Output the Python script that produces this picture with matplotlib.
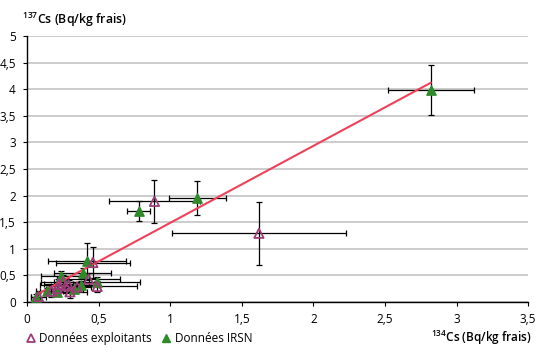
import matplotlib.pyplot as plt
from matplotlib.lines import Line2D

# Données exploitants (open triangles)
expl_x = [0.89, 1.62, 0.46, 0.43, 0.49, 0.29, 0.25, 0.30, 0.21, 0.08, 0.17, 0.27, 0.35, 0.22]
expl_y = [1.89, 1.29, 0.74, 0.43, 0.29, 0.32, 0.38, 0.19, 0.25, 0.10, 0.20, 0.30, 0.28, 0.33]
expl_xerr = [0.32, 0.61, 0.26, 0.22, 0.28, 0.20, 0.15, 0.12, 0.08, 0.05, 0.08, 0.10, 0.10, 0.10]
expl_yerr = [0.40, 0.59, 0.30, 0.12, 0.10, 0.10, 0.12, 0.12, 0.08, 0.06, 0.10, 0.14, 0.08, 0.10]

# Données IRSN (filled triangles)
irsn_x = [2.82, 1.19, 0.78, 0.42, 0.39, 0.24, 0.49, 0.38, 0.14, 0.06, 0.21, 0.33]
irsn_y = [3.98, 1.95, 1.71, 0.76, 0.54, 0.48, 0.38, 0.32, 0.21, 0.09, 0.19, 0.25]
irsn_xerr = [0.30, 0.20, 0.08, 0.27, 0.20, 0.14, 0.30, 0.12, 0.08, 0.03, 0.06, 0.06]
irsn_yerr = [0.47, 0.32, 0.18, 0.34, 0.10, 0.10, 0.08, 0.08, 0.06, 0.05, 0.05, 0.06]

# trend line end points
trend_x = [0.07, 2.82]
trend_y = [0.14, 4.12]

xticks = [0, 0.5, 1, 1.5, 2, 2.5, 3, 3.5]
xtick_labels = ["0", "0,5", "1", "1,5", "2", "2,5", "3", "3,5"]
yticks = [0, 0.5, 1, 1.5, 2, 2.5, 3, 3.5, 4, 4.5, 5]
ytick_labels = ["0", "0,5", "1", "1,5", "2", "2,5", "3", "3,5", "4", "4,5", "5"]

purple = "#9c3d78"
green = "#2f8a2a"

plt.rcParams["font.family"] = ["Open Sans", "DejaVu Sans"]
plt.rcParams["mathtext.default"] = "regular"

fig = plt.figure(figsize=(5.4, 3.56), dpi=100)
ax = fig.add_axes([0.05, 0.152, 0.928, 0.747])

ax.errorbar(expl_x, expl_y, xerr=expl_xerr, yerr=expl_yerr, fmt="none",
            ecolor="black", elinewidth=0.9, capsize=2.5, capthick=0.9, zorder=2)
ax.errorbar(irsn_x, irsn_y, xerr=irsn_xerr, yerr=irsn_yerr, fmt="none",
            ecolor="black", elinewidth=0.9, capsize=2.5, capthick=0.9, zorder=2)

ax.plot(trend_x, trend_y, color="#ef4259", lw=1.5, zorder=3)

ax.scatter(irsn_x, irsn_y, marker="^", s=45, color=green, zorder=4)
ax.scatter(expl_x, expl_y, marker="^", s=45, facecolor="none",
           edgecolor=purple, linewidth=1.3, zorder=5)

ax.set_xlim(0, 3.5)
ax.set_ylim(0, 5)
ax.set_xticks(xticks)
ax.set_xticklabels(xtick_labels)
ax.set_yticks(yticks)
ax.set_yticklabels(ytick_labels)
ax.tick_params(labelsize=8.5, length=3, width=0.8, pad=5)
ax.grid(axis="y", color="#c4c4c4", lw=1.2)
ax.set_axisbelow(True)
for s in ["top", "right"]:
    ax.spines[s].set_visible(False)
ax.spines["left"].set_linewidth(1.0)
ax.spines["bottom"].set_linewidth(1.0)

fig.text(0.04, 0.945, r"$^{137}$Cs (Bq/kg frais)", fontsize=8.8, fontweight="semibold",
         va="center", ha="left")
fig.text(0.985, 0.05, r"$^{134}$Cs (Bq/kg frais)", fontsize=8.5, fontweight="semibold",
         va="center", ha="right")

handles = [
    Line2D([], [], marker="^", ls="none", markersize=6, markerfacecolor="none",
           markeredgecolor=purple, markeredgewidth=1.3),
    Line2D([], [], marker="^", ls="none", markersize=6, color=green),
]
fig.legend(handles, ["Données exploitants", "Données IRSN"], loc="center left",
           bbox_to_anchor=(0.025, 0.05), ncol=2, frameon=False, fontsize=8.5,
           handletextpad=0.1, columnspacing=0.6, handlelength=1.2)

fig.savefig("out.png", dpi=100)
